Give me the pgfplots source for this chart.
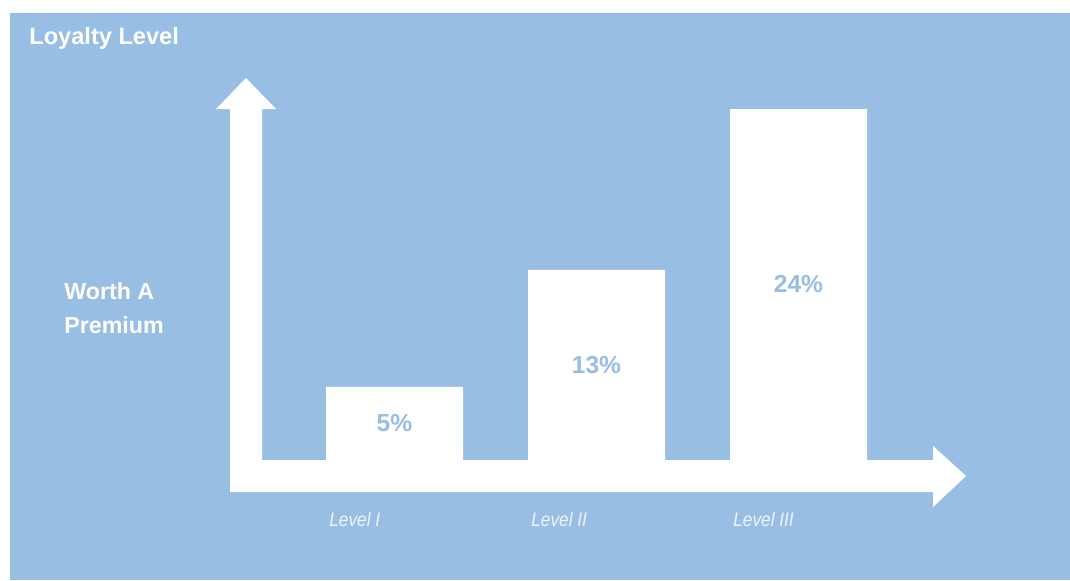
\documentclass[border=0pt]{standalone}
\usepackage{pgfplots}
\pgfplotsset{compat=1.18}
\usepackage{fontspec}
\setmainfont{Liberation Sans}
\definecolor{bgblue}{RGB}{153,190,228}
\definecolor{ticktext}{RGB}{238,244,251}
\begin{document}
\begin{tikzpicture}
\useasboundingbox (0,0) rectangle (535pt,290pt);
% background panel
\fill[bgblue] (5pt,0pt) rectangle (535pt,283.5pt);
% axis arrows (decoration)
\fill[white] (115pt,44pt) -- (115pt,235.5pt) -- (108pt,235.5pt) -- (123pt,251pt)
  -- (138pt,235.5pt) -- (131pt,235.5pt) -- (131pt,60pt) -- (466.5pt,60pt)
  -- (466.5pt,67pt) -- (483pt,52pt) -- (466.5pt,36.5pt) -- (466.5pt,44pt) -- cycle;
% titles
\node[anchor=base west, inner sep=0pt, text=white, font=\fontsize{11.8pt}{14pt}\selectfont\bfseries]
  at (14.5pt,268pt) {Loyalty Level};
\node[anchor=base west, inner sep=0pt, text=white, font=\fontsize{11.6pt}{14pt}\selectfont\bfseries]
  at (32pt,140.5pt) {Worth A};
\node[anchor=base west, inner sep=0pt, text=white, font=\fontsize{11.6pt}{14pt}\selectfont\bfseries]
  at (32pt,123.5pt) {Premium};
\begin{axis}[
  at={(96.25pt,60pt)}, anchor=south west,
  x=101pt, y=7.3125pt,
  xmin=-1, xmax=3, ymin=0, ymax=25,
  axis x line=bottom, axis y line=none,
  x axis line style={draw=none},
  xtick=data, xtick style={draw=none},
  xticklabels={Level I, Level II, Level III},
  xticklabel style={anchor=base west, inner sep=0pt, xshift=-32.75pt, yshift=-29pt,
    text=ticktext, font=\fontsize{9.8pt}{12pt}\selectfont\itshape, xscale=0.88},
  ytick=\empty,
  clip=false,
  /pgf/number format/assume math mode=true,
  ybar, bar width=68.5pt,
  visualization depends on={y \as \rawy},
  nodes near coords={\pgfmathprintnumber{\pgfplotspointmeta}\%},
  every node near coord/.append style={anchor=center, yshift=-\rawy*3.65625pt,
    text=bgblue, font=\fontsize{12.3pt}{14pt}\selectfont\bfseries},
]
\addplot[fill=white, draw=none] coordinates {(0,5) (1,13) (2,24)};
\end{axis}
\end{tikzpicture}
\end{document}
